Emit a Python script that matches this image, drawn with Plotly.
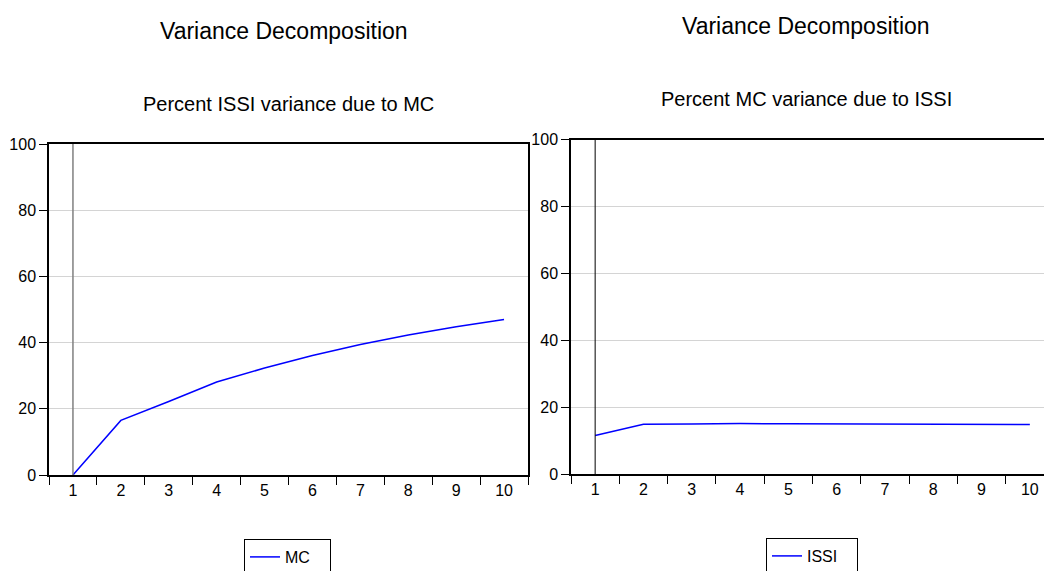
import plotly.graph_objects as go

periods = ["1", "2", "3", "4", "5", "6", "7", "8", "9", "10"]
issi_due_to_mc = [0.0, 16.5, 22.2, 28.1, 32.3, 36.1, 39.4, 42.3, 44.8, 47.0]
mc_due_to_issi = [11.5, 14.9, 14.95, 15.1, 15.0, 15.0, 14.9, 14.9, 14.9, 14.8]
y_ticks = [0, 20, 40, 60, 80, 100]

W, H = 1044, 571
FONT = "Liberation Sans, Arial, sans-serif"


def px_x(v):
    return v / W


def px_y(v):
    return 1 - v / H


fig = go.Figure()
fig.add_trace(go.Scatter(x=periods, y=issi_due_to_mc, mode="lines", name="MC",
                         line=dict(color="#0000ff", width=1.5),
                         xaxis="x", yaxis="y", legend="legend"))
fig.add_trace(go.Scatter(x=periods, y=mc_due_to_issi, mode="lines", name="ISSI",
                         line=dict(color="#0000ff", width=1.5),
                         xaxis="x2", yaxis="y2", legend="legend2"))

xcommon = dict(type="category", tickson="boundaries", ticks="outside", ticklen=8,
               tickcolor="black", showline=True, linecolor="black", linewidth=1.5,
               mirror=True, showgrid=False, zeroline=False,
               tickfont=dict(family=FONT, size=16, color="black"))
ycommon = dict(range=[0, 100], tickvals=y_ticks, ticks="outside", ticklen=8,
               tickcolor="black", showline=True, linecolor="black", linewidth=1.5,
               showgrid=True, gridcolor="#d4d4d4", gridwidth=1, zeroline=False,
               tickfont=dict(family=FONT, size=16, color="black"))

fig.update_layout(
    width=W, height=H,
    margin=dict(l=0, r=0, t=0, b=0, autoexpand=False),
    paper_bgcolor="white", plot_bgcolor="white",
    font=dict(family=FONT, color="black"),
    xaxis=dict(xcommon, domain=[px_x(49), px_x(528)], range=[-0.5, 9.5], anchor="y"),
    yaxis=dict(ycommon, domain=[px_y(475), px_y(144)], anchor="x", mirror=True),
    xaxis2=dict(xcommon, domain=[px_x(571), 1.0], range=[-0.5, 9.293], anchor="y2"),
    yaxis2=dict(ycommon, domain=[px_y(474), px_y(139.5)], anchor="x2", mirror=False),
    legend=dict(x=px_x(244), y=px_y(539), xanchor="left", yanchor="top",
                orientation="h", entrywidth=40,
                bordercolor="black", borderwidth=1, bgcolor="white",
                font=dict(family=FONT, size=16, color="black")),
    legend2=dict(x=px_x(766), y=px_y(538), xanchor="left", yanchor="top",
                 orientation="h", entrywidth=45,
                 bordercolor="black", borderwidth=1, bgcolor="white",
                 font=dict(family=FONT, size=16, color="black")),
    shapes=[
        dict(type="line", xref="x", yref="y", x0=0, x1=0, y0=0, y1=100,
             line=dict(color="#808080", width=1.5)),
        dict(type="line", xref="x2", yref="y2", x0=0, x1=0, y0=0, y1=100,
             line=dict(color="black", width=1)),
    ],
    annotations=[
        dict(text="Variance Decomposition", x=px_x(284), y=px_y(31), xref="paper", yref="paper",
             xanchor="center", yanchor="middle", showarrow=False,
             font=dict(family=FONT, size=23, color="black")),
        dict(text="Percent ISSI variance due to MC", x=px_x(288), y=px_y(104), xref="paper", yref="paper",
             xanchor="center", yanchor="middle", showarrow=False,
             font=dict(family=FONT, size=20, color="black")),
        dict(text="Variance Decomposition", x=px_x(806), y=px_y(26), xref="paper", yref="paper",
             xanchor="center", yanchor="middle", showarrow=False,
             font=dict(family=FONT, size=23, color="black")),
        dict(text="Percent MC variance due to ISSI", x=px_x(806), y=px_y(99), xref="paper", yref="paper",
             xanchor="center", yanchor="middle", showarrow=False,
             font=dict(family=FONT, size=20, color="black")),
    ],
    showlegend=True,
)

fig.write_html("out.html", config={"displayModeBar": False},
               post_script="document.body.style.margin='0px';document.body.style.overflow='hidden';")
